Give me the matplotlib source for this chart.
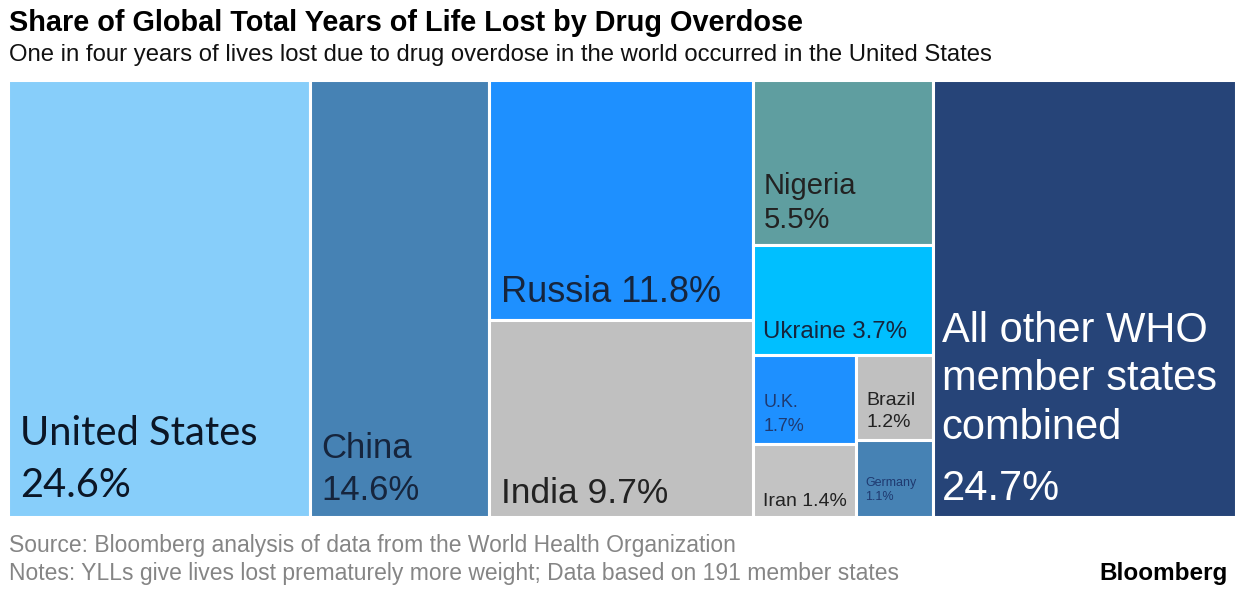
import matplotlib.pyplot as plt
from matplotlib.patches import Rectangle

plt.rcParams['font.family'] = ['Liberation Sans', 'DejaVu Sans']

# data: share of global years of life lost (%)
countries = ['United States', 'China', 'Russia', 'India', 'Nigeria', 'Ukraine',
             'U.K.', 'Iran', 'Brazil', 'Germany', 'All other WHO member states combined']
shares = [24.6, 14.6, 11.8, 9.7, 5.5, 3.7, 1.7, 1.4, 1.2, 1.1, 24.7]
value_labels = ['24.6%', '14.6%', '11.8%', '9.7%', '5.5%', '3.7%',
                '1.7%', '1.4%', '1.2%', '1.1%', '24.7%']

# treemap structure: columns -> stacked rows -> (optional) sub columns
layout = [
    [['United States']],
    [['China']],
    [['Russia'], ['India']],
    [['Nigeria'], ['Ukraine'], [['U.K.', 'Iran'], ['Brazil', 'Germany']]],
    [['All other WHO member states combined']],
]

colors = {
    'United States': '#87CEFA', 'China': '#4682B4', 'Russia': '#1E90FF',
    'India': '#C0C0C0', 'Nigeria': '#5F9EA0', 'Ukraine': '#00BFFF',
    'U.K.': '#1E90FF', 'Iran': '#C3C3C3', 'Brazil': '#C0C0C0',
    'Germany': '#4682B4', 'All other WHO member states combined': '#264478',
}

val = dict(zip(countries, shares))
vlab = dict(zip(countries, value_labels))


def total(node):
    if isinstance(node, str):
        return val[node]
    return sum(total(n) for n in node)


# compute rectangles: x in share units, y in 0..1 (top = 0)
rects = {}
x0 = 0
for col in layout:
    w = total(col)
    y0 = 0
    for row in col:
        h = total(row) / w
        if isinstance(row[0], list):  # sub columns inside the row
            sx = x0
            for sub in row:
                sw = w * total(sub) / total(row)
                sy = y0
                for name in sub:
                    sh = h * val[name] / total(sub)
                    rects[name] = (sx, sy, sw, sh)
                    sy += sh
                sx += sw
        else:
            for name in row:
                rects[name] = (x0, y0, w, h)
        y0 += h
    x0 += w

# label style: text, size, color, dx, baseline of (last line of) name, baseline of value, font
# offsets in pixels from the top-left corner of the box
label_style = {
    'United States': ('United States', 28.7, '#0b1626', 12, 365, 417, 'Lato'),
    'China': ('China', 25, '#16253d', 11, 378, 420, None),
    'Russia': ('Russia 11.8%', 26, '#16253d', 12, 222, None, None),
    'India': ('India 9.7%', 25.5, '#222222', 12, 183, None, None),
    'Nigeria': ('Nigeria', 21, '#222222', 10, 114, 148, None),
    'Ukraine': ('Ukraine 3.7%', 17.3, '#16253d', 10, 93, None, None),
    'U.K.': ('U.K.', 13, '#1f3a70', 10, 52, 76, None),
    'Brazil': ('Brazil', 14, '#222222', 10, 50, 72, None),
    'Iran': ('Iran 1.4%', 14, '#222222', 10, 62, None, None),
    'Germany': ('Germany', 9, '#1f3a70', 9, 46, 60, None),
    'All other WHO member states combined': ('All other WHO\nmember states\ncombined', 30, 'white',
                                             9, 359, 420, None),
}

fig = plt.figure(figsize=(12.4, 5.96), dpi=100)
L, T, R, B = 8, 80, 1236, 517
ax = fig.add_axes([L / 1240, 1 - B / 596, (R - L) / 1240, (B - T) / 596])
ax.set_xlim(0, 100)
ax.set_ylim(1, 0)
ax.axis('off')

for name in countries:
    x, y, w, h = rects[name]
    ax.add_patch(Rectangle((x, y), w, h, facecolor=colors[name], edgecolor='white', linewidth=2.2))
    text, size, tc, dx, dy1, dy2, fam = label_style[name]
    kw = dict(fontsize=size, color=tc, ha='left', va='baseline', annotation_clip=False,
              textcoords='offset points', linespacing=1.28)
    if fam:
        kw['family'] = [fam, 'DejaVu Sans']
    ax.annotate(text, xy=(x, y), xytext=(dx * 0.72, -dy1 * 0.72), **kw)
    if dy2 is not None:
        ax.annotate(vlab[name], xy=(x, y), xytext=(dx * 0.72, -dy2 * 0.72), **kw)

fig.text(9 / 1240, 1 - 31 / 596, 'Share of Global Total Years of Life Lost by Drug Overdose',
         fontsize=20.8, fontweight='bold', color='black', va='baseline')
fig.text(9 / 1240, 1 - 61 / 596,
         'One in four years of lives lost due to drug overdose in the world occurred in the United States',
         fontsize=17.2, color='#111111', va='baseline')
fig.text(9 / 1240, 1 - 552 / 596, 'Source: Bloomberg analysis of data from the World Health Organization',
         fontsize=16.5, color='#858585', va='baseline')
fig.text(9 / 1240, 1 - 580 / 596, 'Notes: YLLs give lives lost prematurely more weight; Data based on 191 member states',
         fontsize=16.5, color='#858585', va='baseline')
fig.text(1228 / 1240, 1 - 580 / 596, 'Bloomberg', fontsize=17.5, fontweight='bold',
         color='black', ha='right', va='baseline')

fig.savefig('out.png', dpi=100, facecolor='white')
